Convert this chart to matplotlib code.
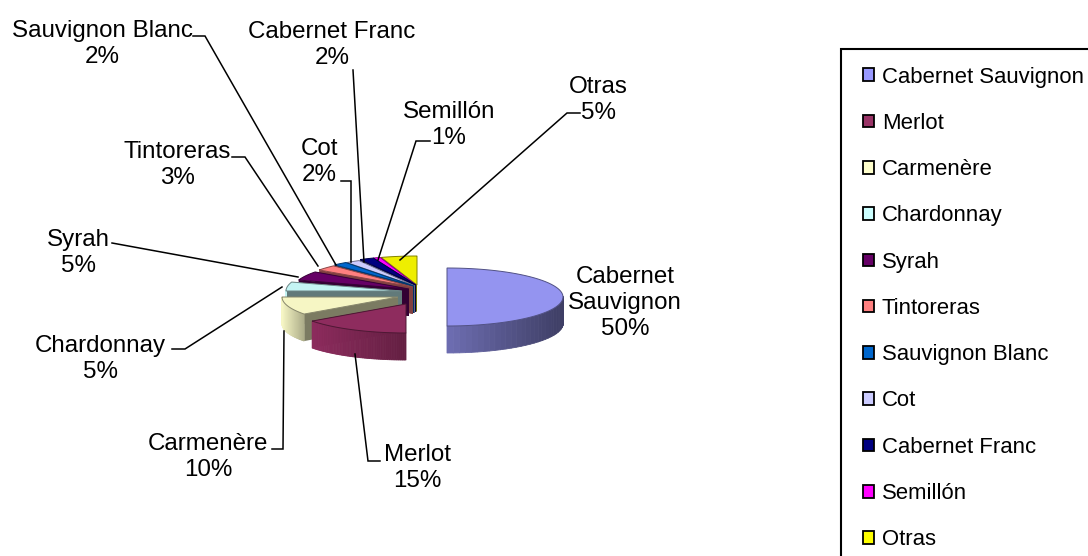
import numpy as np
import matplotlib
matplotlib.use("Agg")
import matplotlib.pyplot as plt
from matplotlib.patches import Polygon, Patch, Rectangle

# ---- data ----
categories = ["Cabernet Sauvignon", "Merlot", "Carmenère", "Chardonnay", "Syrah", "Tintoreras",
              "Sauvignon Blanc", "Cot", "Cabernet Franc", "Semillón", "Otras"]
values = [50, 15, 10, 5, 5, 3, 2, 2, 2, 1, 5]
colors = ["#9494F0", "#8E2C5E", "#F6F6C4", "#C4F4F4", "#660066", "#FF8080",
          "#0066CC", "#CCCCFF", "#000080", "#FF00FF", "#EEEE00"]
legend_colors = ["#9999FF", "#993366", "#FFFFCC", "#CCFFFF", "#660066", "#FF8080",
                 "#0066CC", "#CCCCFF", "#000080", "#FF00FF", "#FFFF00"]

# ---- layout (pixels) ----
W, H = 1088, 556
RX, RY, DEPTH = 116, 29, 27
apex = [(447, 297), (406, 304), (398, 297), (402, 291), (409, 289), (413, 287),
        (414, 286), (415, 286), (416, 285), (416, 285), (417, 285)]
label_pos = [(625, 303), (417, 468), (208, 457), (100, 359), (78, 253), (177, 165),
             (102, 44), (319, 162), (332, 45), (449, 125), (598, 100)]
label_text = ["Cabernet\nSauvignon", "Merlot", "Carmenère", "Chardonnay", "Syrah", "Tintoreras",
              "Sauvignon Blanc", "Cot", "Cabernet Franc", "Semillón", "Otras"]
leaders = [None,
           [(380, 461), (368, 461), (355, 354)],
           [(272, 449), (283, 449), (284, 331)],
           [(172, 349), (185, 349), (282, 287)],
           [(112, 243), (298, 277)],
           [(232, 157), (245, 157), (318, 266)],
           [(193, 36), (205, 36), (336, 265)],
           [(341, 181), (351, 181), (351, 262)],
           [(353, 70), (364, 262)],
           [(430, 141), (416, 141), (378, 260)],
           [(580, 113), (567, 113), (400, 260)]]

plt.rcParams["font.family"] = ["Liberation Sans", "DejaVu Sans"]
FS_LEGEND = 15.9
FS_LABEL = 17.4
fig = plt.figure(figsize=(W / 100, H / 100), dpi=100, facecolor="white")
ax = fig.add_axes([0, 0, 1, 1])
ax.set_xlim(0, W)
ax.set_ylim(H, 0)
ax.axis("off")


def shade(c, f):
    rgb = np.array(matplotlib.colors.to_rgb(c))
    return tuple(rgb * f)


def rim(cx, cy, t):
    return cx + RX * np.sin(t), cy - RY * np.cos(t)


def draw_slice(i, a0, a1):
    cx, cy = apex[i]
    c = colors[i]
    t = np.radians(np.linspace(a0, a1, 60))
    x, y = rim(cx, cy, t)
    # radial walls
    for a in (a1, a0):
        ex, ey = rim(cx, cy, np.radians(a))
        wall = [(cx, cy), (ex, ey), (ex, ey + DEPTH), (cx, cy + DEPTH)]
        ax.add_patch(Polygon(wall, closed=True, fc=shade(c, 0.5), ec="none"))
    # curved outer side, dark toward the right
    hi, lo = (0.75, 0.42) if i == 0 else (1.0, 0.7)
    for k in range(len(t) - 1):
        if np.cos((t[k] + t[k + 1]) / 2) < 0.05:
            f = hi - (hi - lo) * (x[k] - x.min()) / (x.max() - x.min())
            quad = [(x[k], y[k]), (x[k + 1], y[k + 1]), (x[k + 1], y[k + 1] + DEPTH), (x[k], y[k] + DEPTH)]
            ax.add_patch(Polygon(quad, closed=True, fc=shade(c, f), ec=shade(c, f), lw=0.6))
    # top
    ax.add_patch(Polygon(np.column_stack([np.r_[cx, x], np.r_[cy, y]]), closed=True,
                         fc=c, ec=shade(c, 0.55), lw=0.7))


edges = np.cumsum([0] + values) * 3.6
for i in [10, 9, 8, 7, 6, 5, 4, 3, 2, 1, 0]:
    draw_slice(i, edges[i], edges[i + 1])

# labels and leaders
for i, name in enumerate(label_text):
    pct = f"{values[i]}%"
    ax.text(label_pos[i][0], label_pos[i][1], f"{name}\n{pct}", ha="center", va="center",
            fontsize=FS_LABEL, color="black", linespacing=1.25, zorder=10)
    if leaders[i]:
        pts = np.array(leaders[i])
        ax.plot(pts[:, 0], pts[:, 1], color="black", lw=1.1, solid_joinstyle="miter", zorder=9)

# legend frame runs past the image's right and bottom edges
ax.add_patch(Rectangle((841, 49), 280, 540, fc="white", ec="black", lw=1.5, zorder=11))
handles = [Patch(fc=c, ec="black", lw=1.3) for c in legend_colors]
leg = ax.legend(handles, categories, loc="upper left", bbox_to_anchor=(863 / W, 1 - 66.5 / H),
                bbox_transform=fig.transFigure, fontsize=FS_LEGEND, frameon=False, borderpad=0,
                labelspacing=1.145, handlelength=0.5, handleheight=0.5, handletextpad=0.36,
                borderaxespad=0)
leg.set_zorder(12)

fig.savefig("out.png", dpi=100)
